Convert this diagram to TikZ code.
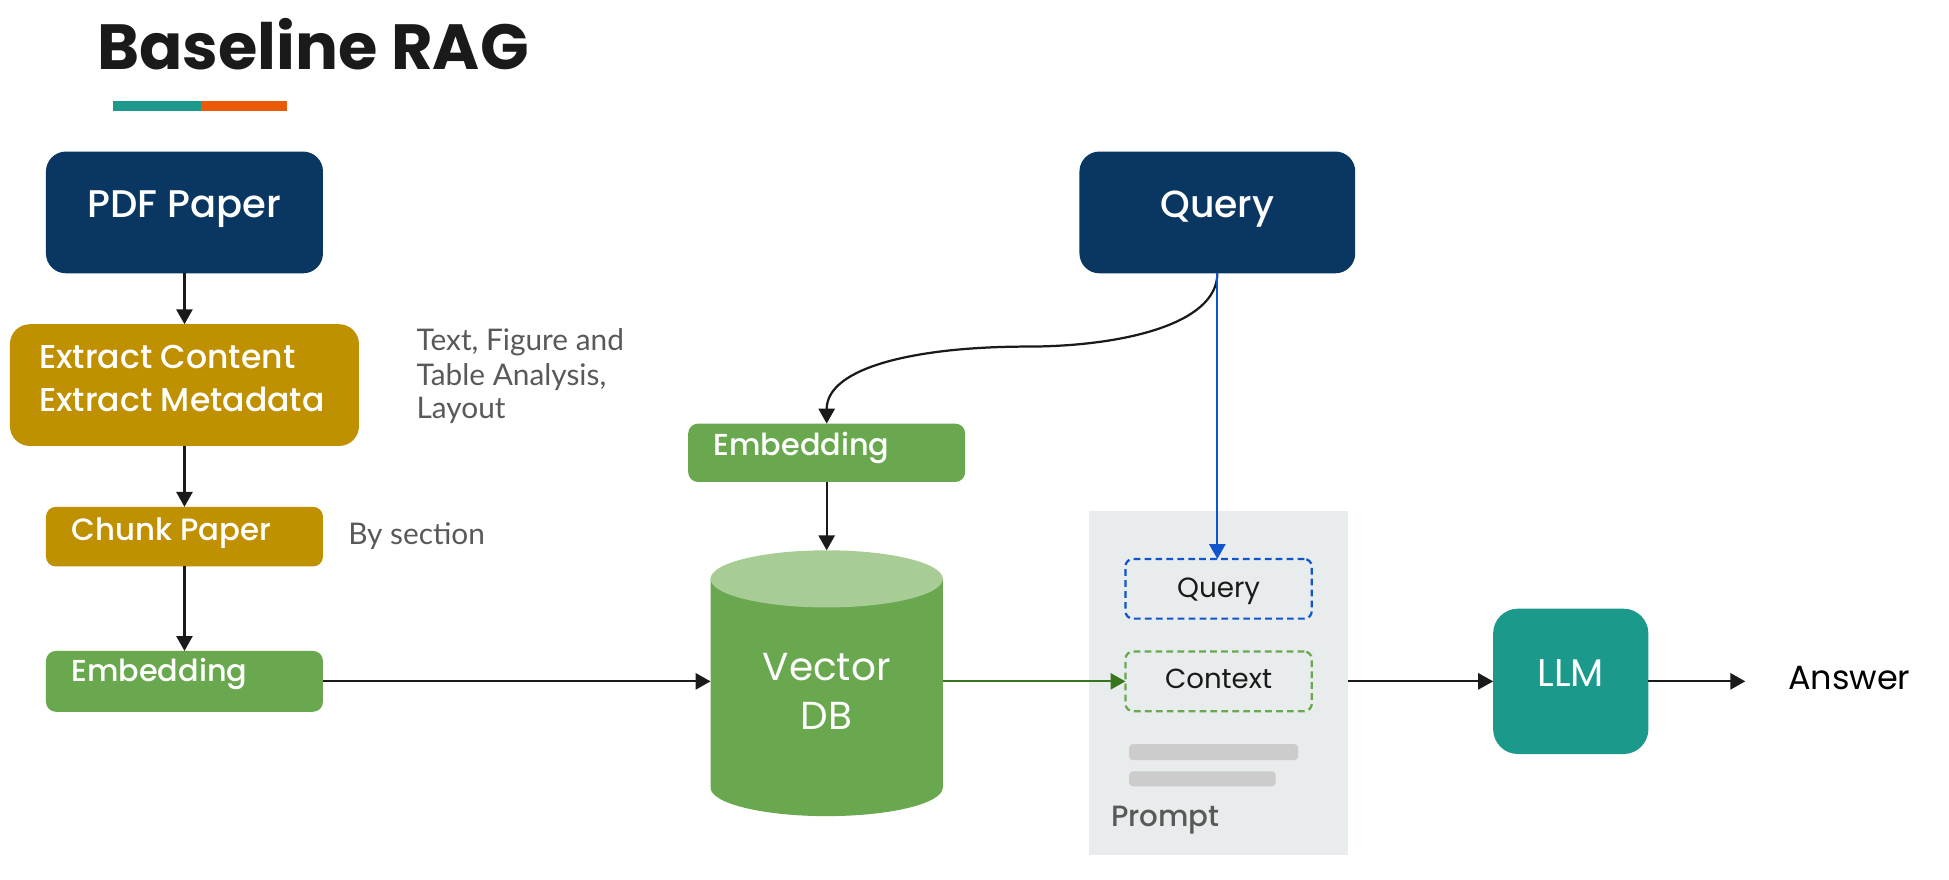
\documentclass[tikz,border=0pt]{standalone}
\usepackage{fontspec}
\setmainfont{Poppins}
\newfontfamily\latof{Lato}
\newfontfamily\popm{Poppins Medium}
\usetikzlibrary{arrows.meta,calc}
\definecolor{navy}{RGB}{10,55,98}
\definecolor{gold}{RGB}{191,144,0}
\definecolor{leaf}{RGB}{106,168,79}
\definecolor{leaflight}{RGB}{168,204,150}
\definecolor{tealc}{RGB}{27,153,139}
\definecolor{orangec}{RGB}{234,90,8}
\definecolor{promptbg}{RGB}{232,236,237}
\definecolor{barc}{RGB}{204,204,204}
\definecolor{graytext}{RGB}{89,89,89}
\definecolor{bluec}{RGB}{17,85,204}
\definecolor{darkgreen}{RGB}{56,118,29}
\definecolor{ink}{RGB}{26,26,26}
\begin{document}
\begin{tikzpicture}[x=0.5pt,y=-0.5pt,
  boxbase/.style={inner sep=0pt, outer sep=0pt},
  navybox/.style={boxbase, fill=navy, rounded corners=8pt, minimum width=111.5pt, minimum height=49pt},
  goldbox/.style={boxbase, fill=gold, rounded corners=8pt},
  greenbox/.style={boxbase, fill=leaf, rounded corners=4pt},
  whitetext/.style={inner sep=0pt, text=white},
  sidetext/.style={inner sep=0pt, text=graytext, anchor=base west},
  arr/.style={-{Triangle[length=6pt,width=6.5pt]}, line width=0.9pt, draw=ink},
  dashbox/.style={boxbase, rounded corners=3pt, line width=0.9pt, dash pattern=on 2.7pt off 1.7pt, minimum width=75pt, minimum height=24pt}
]
\useasboundingbox[fill=white] (0,0) rectangle (1569,708.4);

% title
\node[anchor=base west, inner sep=0pt, text=ink] (title) at (78,56) {\fontsize{25.7}{30}\selectfont\bfseries Baseline RAG};
\fill[tealc] (91,81) rectangle (162,89);
\fill[orangec] (162,81) rectangle (231,89);

% left column
\node[navybox] (pdf) at (148.5,171) {};
\node[whitetext, anchor=base] (pdft) at (148.5,175) {\popm\fontsize{15.5}{18}\selectfont PDF Paper};

\node[goldbox, minimum width=140.5pt, minimum height=49pt] (extract) at (148.5,310) {};
\node[whitetext, anchor=base west] (extt1) at (31,297) {\popm\fontsize{13.3}{16}\selectfont Extract Content};
\node[whitetext, anchor=base west] (extt2) at (31,331) {\popm\fontsize{13.3}{16}\selectfont Extract Metadata};

\node[sidetext] (side1) at (335,282) {\latof\fontsize{12}{14}\selectfont Text, Figure and};
\node[sidetext] (side2) at (335,310) {\latof\fontsize{12}{14}\selectfont Table Analysis,};
\node[sidetext] (side3) at (335,337) {\latof\fontsize{12}{14}\selectfont Layout};

\node[goldbox, rounded corners=4pt, minimum width=111.5pt, minimum height=24pt] (chunk) at (148.5,432) {};
\node[whitetext, anchor=base west] (chunkt) at (57,435) {\popm\fontsize{12.4}{16}\selectfont Chunk Paper};
\node[sidetext] (bysec) at (280,438) {\latof\fontsize{12}{14}\selectfont By section};

\node[greenbox, minimum width=111.5pt, minimum height=24.5pt] (emb1) at (148.5,548.5) {};
\node[whitetext, anchor=base west] (emb1t) at (57,549) {\popm\fontsize{12.2}{16}\selectfont Embedding};

% query side
\node[navybox, minimum width=111pt] (query) at (980,171) {};
\node[whitetext, anchor=base] (queryt) at (980,175) {\popm\fontsize{15.2}{18}\selectfont Query};

\node[greenbox, minimum width=111.5pt, minimum height=23.5pt] (emb2) at (665.5,364.5) {};
\node[whitetext, anchor=base west] (emb2t) at (574,367) {\popm\fontsize{12.2}{16}\selectfont Embedding};

% vector DB cylinder
\node[boxbase, minimum width=93.5pt, minimum height=107pt] (vdb) at (665.5,550) {};
\fill[leaf] (572,466) -- (572,634) arc[start angle=180, end angle=360, x radius=46.75pt, y radius=11.5pt] -- (759,466) -- cycle;
\fill[leaflight] (665.5,466) ellipse[x radius=46.75pt, y radius=11.5pt];
\node[whitetext, anchor=base] (vdbt1) at (665.5,548) {\fontsize{15.7}{19}\selectfont Vector};
\node[whitetext, anchor=base] (vdbt2) at (665.5,587) {\fontsize{15.7}{19}\selectfont DB};

% prompt
\node[boxbase, fill=promptbg, minimum width=104pt, minimum height=138.5pt] (prompt) at (981,549.5) {};
\node[dashbox, draw=bluec] (qin) at (981,474) {};
\node[inner sep=0pt, anchor=base, text=ink] (qint) at (981,481) {\fontsize{11.2}{14}\selectfont Query};
\node[dashbox, draw=leaf] (ctx) at (981,548.5) {};
\node[inner sep=0pt, anchor=base, text=ink] (ctxt) at (981,554) {\fontsize{11.1}{14}\selectfont Context};
\fill[barc, rounded corners=1.5pt] (909,599) rectangle (1045,612);
\fill[barc, rounded corners=1.5pt] (909,621) rectangle (1027,633);
\node[inner sep=0pt, anchor=base west, text=graytext] (promptt) at (894,665) {\popm\fontsize{11.8}{16}\selectfont Prompt};

% LLM and answer
\node[boxbase, fill=tealc, rounded corners=10pt, minimum width=62.5pt, minimum height=58.5pt] (llm) at (1264.5,548.5) {};
\node[whitetext, anchor=base] (llmt) at (1264.5,553) {\fontsize{15.5}{17}\selectfont LLM};
\node[inner sep=0pt, anchor=base west, text=black] (answer) at (1439,555) {\fontsize{13.5}{16}\selectfont Answer};
\coordinate (anstip) at (1405,548.5);

% connectors
\draw[arr] (pdf.south) -- (extract.north);
\draw[arr] (extract.south) -- (chunk.north);
\draw[arr] (chunk.south) -- (emb1.north);
\draw[arr] (emb1.east) -- (emb1.east -| vdb.west);
\draw[arr] (query.south) .. controls (980,262) and (900,279) .. (827,279) .. controls (740,279) and (665.5,295) .. (emb2.north);
\draw[arr] (emb2.south) -- (vdb.north);
\draw[arr, draw=bluec] (query.south) -- (query.south |- qin.north);
\draw[arr, draw=darkgreen] (ctx.west -| vdb.east) -- (ctx.west);
\draw[arr] (llm.west -| prompt.east) -- (llm.west);
\draw[arr] (llm.east) -- (anstip);
\end{tikzpicture}
\end{document}
